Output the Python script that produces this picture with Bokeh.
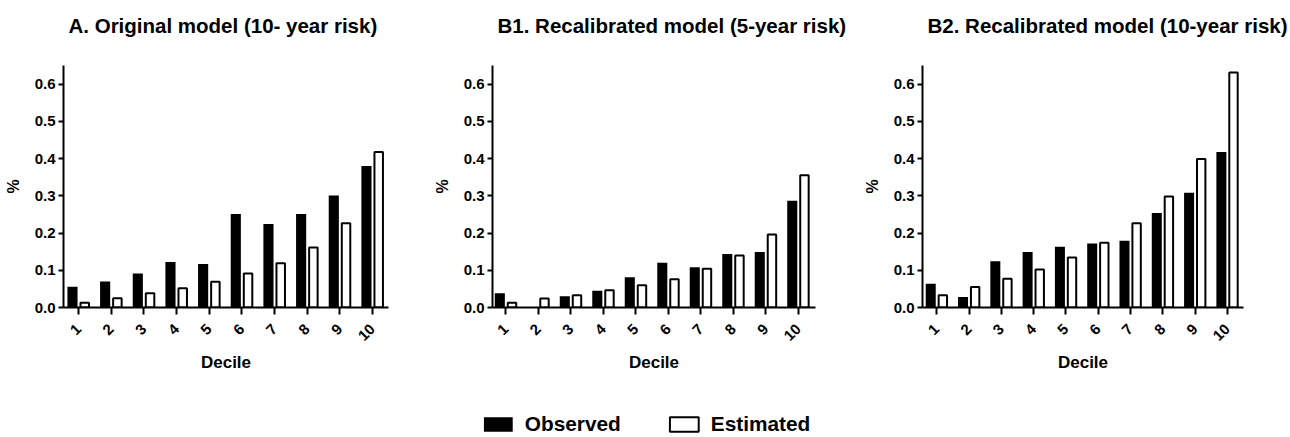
import math
from bokeh.plotting import figure
from bokeh.models import (ColumnDataSource, Range1d, FixedTicker, Title, Legend, LegendItem,
                          PrintfTickFormatter)
from bokeh.transform import dodge
from bokeh.layouts import column, row
from bokeh.embed import file_html
from bokeh.resources import INLINE

# ---------------- data ----------------
deciles = [1, 2, 3, 4, 5, 6, 7, 8, 9, 10]
decile_labels = ["1", "2", "3", "4", "5", "6", "7", "8", "9", "10"]
y_ticks = [0.0, 0.1, 0.2, 0.3, 0.4, 0.5, 0.6]

titles = ["A. Original model (10- year risk)",
          "B1. Recalibrated model (5-year risk)",
          "B2. Recalibrated model (10-year risk)"]
series_names = ["Observed", "Estimated"]

observed_A = [0.056, 0.070, 0.091, 0.122, 0.117, 0.251, 0.224, 0.251, 0.301, 0.380]
estimated_A = [0.013, 0.025, 0.038, 0.052, 0.069, 0.091, 0.119, 0.161, 0.226, 0.418]

observed_B1 = [0.038, 0.0, 0.030, 0.045, 0.081, 0.120, 0.108, 0.144, 0.149, 0.287]
estimated_B1 = [0.013, 0.024, 0.033, 0.046, 0.060, 0.076, 0.104, 0.140, 0.196, 0.355]

observed_B2 = [0.064, 0.028, 0.124, 0.149, 0.163, 0.172, 0.179, 0.254, 0.308, 0.418]
estimated_B2 = [0.033, 0.055, 0.077, 0.102, 0.134, 0.174, 0.226, 0.298, 0.399, 0.631]

FONT = "Liberation Sans"


def add_bars(p, src):
    r1 = p.vbar(x=dodge("x", -0.185), top="obs", width=0.31, source=src,
                fill_color="black", line_color=None)
    r2 = p.vbar(x=dodge("x", 0.19), top="est", width=0.26, source=src,
                fill_color="white", line_color="black", line_width=2)
    return r1, r2


def make_panel(title, obs, est, x_start, x_end, left, right):
    src = ColumnDataSource(dict(x=deciles, obs=obs, est=est))
    p = figure(width=430, height=403, output_backend="svg", toolbar_location=None,
               x_range=Range1d(x_start, x_end), y_range=Range1d(0, 0.65),
               min_border_left=left, min_border_right=right,
               min_border_top=65, min_border_bottom=96)
    # blank spacer between plot area and title (lifts the title up)
    p.add_layout(Title(text=" ", text_font_size="1px", standoff=26), "above")
    p.title = Title(text=title, align="left", offset=5, standoff=0,
                    text_font=FONT, text_font_size="20.5px", text_font_style="bold",
                    text_color="black")
    add_bars(p, src)
    p.grid.visible = False
    p.outline_line_color = None
    p.background_fill_color = "white"
    p.border_fill_color = "white"

    xa = p.xaxis[0]
    xa.ticker = FixedTicker(ticks=deciles)
    xa.major_label_overrides = {d: l for d, l in zip(deciles, decile_labels)}
    xa.major_label_orientation = math.pi / 4
    xa.axis_label = "Decile"
    ya = p.yaxis[0]
    ya.ticker = FixedTicker(ticks=y_ticks)
    ya.formatter = PrintfTickFormatter(format="%.1f")
    ya.axis_label = "%"
    for ax in (xa, ya):
        ax.axis_line_color = "black"
        ax.axis_line_width = 2
        ax.major_tick_line_color = "black"
        ax.major_tick_line_width = 2
        ax.major_tick_in = 0
        ax.minor_tick_line_color = None
        ax.major_label_text_font = FONT
        ax.major_label_text_font_size = "15px"
        ax.major_label_text_font_style = "bold"
        ax.major_label_text_color = "black"
        ax.axis_label_text_font = FONT
        ax.axis_label_text_font_style = "bold"
        ax.axis_label_text_color = "black"
    xa.major_tick_out = 7
    ya.major_tick_out = 5
    xa.major_label_standoff = 12
    ya.major_label_standoff = 3
    xa.axis_label_text_font_size = "17px"
    ya.axis_label_text_font_size = "16px"
    xa.axis_label_standoff = 5
    ya.axis_label_standoff = 10
    return p


pA = make_panel(titles[0], observed_A, estimated_A, 0.54, 10.49, 63, 42)
pB1 = make_panel(titles[1], observed_B1, estimated_B1, 0.59, 10.53, 61, 45)
pB2 = make_panel(titles[2], observed_B2, estimated_B2, 0.56, 10.50, 59, 47)

# ---------------- legend strip (hidden bar renderers supply the swatches) ----------------
lf = figure(width=1290, height=34, output_backend="svg", toolbar_location=None,
            x_range=Range1d(0.5, 10.5), y_range=Range1d(0, 0.65),
            x_axis_location=None, y_axis_location=None,
            min_border_left=0, min_border_right=0, min_border_top=0, min_border_bottom=0)
lf.grid.visible = False
lf.outline_line_color = None
r_obs, r_est = add_bars(lf, ColumnDataSource(dict(x=deciles, obs=observed_B1, est=estimated_B1)))
r_obs.visible = False
r_est.visible = False
legend = Legend(items=[LegendItem(label=series_names[0], renderers=[r_obs]),
                       LegendItem(label=series_names[1], renderers=[r_est])],
                orientation="horizontal", location="bottom_center",
                glyph_width=36, glyph_height=18, label_standoff=9, spacing=45,
                padding=0, margin=1, border_line_color=None, background_fill_alpha=0,
                inactive_fill_alpha=0,
                label_text_font=FONT, label_text_font_size="20.8px",
                label_text_font_style="bold", label_text_color="black")
lf.add_layout(legend, "center")

layout = column(row(pA, pB1, pB2), lf)

with open("out.html", "w") as f:
    f.write(file_html(layout, INLINE))
